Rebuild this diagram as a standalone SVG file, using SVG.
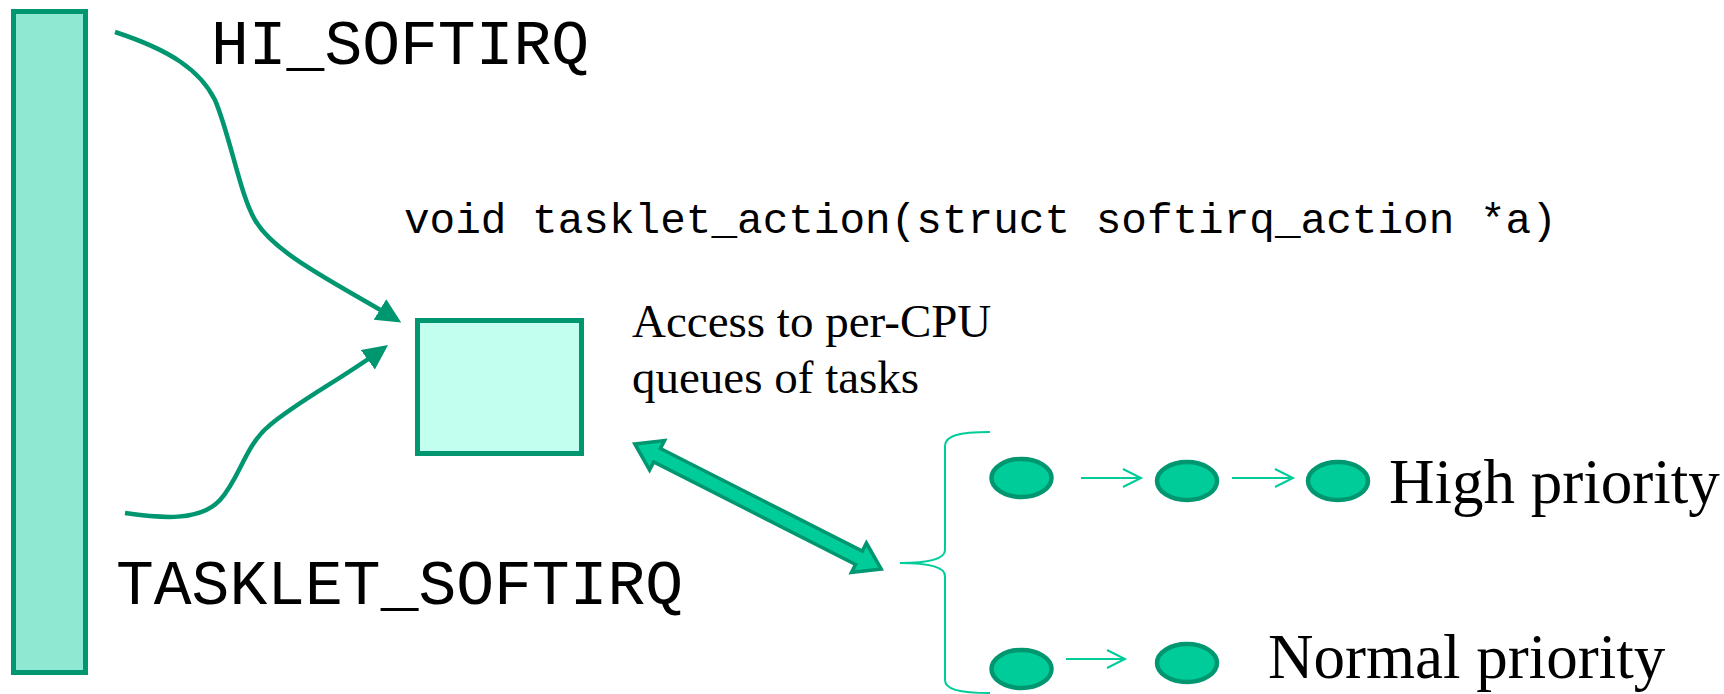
<svg xmlns="http://www.w3.org/2000/svg" width="1724" height="694" viewBox="0 0 1724 694">
<style>
.mono{font-family:"Liberation Mono","Courier New",monospace;fill:#000}
.serif{font-family:"Liberation Serif","Times New Roman",serif;fill:#000}
.curve{fill:none;stroke:#009670;stroke-width:4.5}
.thin{fill:none;stroke:#00CC99;stroke-width:2}
.dot{fill:#00CC99;stroke:#009670;stroke-width:4.5}
</style>
<defs>
<marker id="head" markerUnits="userSpaceOnUse" markerWidth="26" markerHeight="26" refX="20" refY="12" orient="auto">
<path d="M0,0 L25,12 L0,24 z" fill="#009670"/>
</marker>
<marker id="chev" markerUnits="userSpaceOnUse" markerWidth="22" markerHeight="22" refX="19" refY="10" orient="auto">
<path d="M1,1 L19,10 L1,19" fill="none" stroke="#00CC99" stroke-width="2"/>
</marker>
</defs>
<g id="bar"><rect x="13.5" y="11.5" width="72" height="661" fill="#8EE8D2" stroke="#009670" stroke-width="5"/></g>
<g id="box"><rect x="417.5" y="320.5" width="164" height="133" fill="#C2FFEE" stroke="#009670" stroke-width="5"/></g>
<g id="labels">
<text class="mono" x="211" y="64" font-size="63">HI_SOFTIRQ</text>
<text class="mono" x="116" y="604" font-size="63">TASKLET_SOFTIRQ</text>
<text class="mono" x="404" y="233" font-size="42.7">void tasklet_action(struct softirq_action *a)</text>
<text class="serif" x="632" y="337" font-size="47">Access to per-CPU</text>
<text class="serif" x="632" y="393" font-size="47">queues of tasks</text>
<text class="serif" x="1389" y="503" font-size="63">High priority</text>
<text class="serif" x="1268" y="678" font-size="63">Normal priority</text>
</g>
<g id="tasks">
<ellipse id="h1" class="dot" cx="1021.5" cy="478" rx="30" ry="19"/>
<ellipse id="h2" class="dot" cx="1187" cy="481" rx="30" ry="19"/>
<ellipse id="h3" class="dot" cx="1338" cy="481" rx="30" ry="19"/>
<ellipse id="n1" class="dot" cx="1021.5" cy="669" rx="30" ry="19"/>
<ellipse id="n2" class="dot" cx="1187" cy="663" rx="30" ry="19"/>
</g>
<g id="connectors">
<path class="curve" marker-end="url(#head)" d="M115,32 C170,50 200,70 215,100 C230,135 240,195 255,220 C275,255 340,285 397,320"/>
<path class="curve" marker-end="url(#head)" d="M125,513 C160,518 200,522 220,500 C240,478 245,445 270,425 C300,400 340,380 384,348"/>
<polygon transform="translate(633,443) rotate(26.93)" points="2,0 27,-16.5 27,-7.5 253.4,-7.5 253.4,-16.5 278.4,0 253.4,16.5 253.4,7.5 27,7.5 27,16.5" fill="#00CC99" stroke="#009670" stroke-width="3.5" stroke-linejoin="miter"/>
<path class="thin" d="M990,432 C958,432 945,436 945,446 L945,550 C945,559 930,563 900,563 C930,563 945,567 945,576 L945,680 C945,689 958,693 990,693"/>
<path class="thin" marker-end="url(#chev)" d="M1081,478 L1141,478"/>
<path class="thin" marker-end="url(#chev)" d="M1232,478 L1293,478"/>
<path class="thin" marker-end="url(#chev)" d="M1066,659 L1125,659"/>
</g>
</svg>
